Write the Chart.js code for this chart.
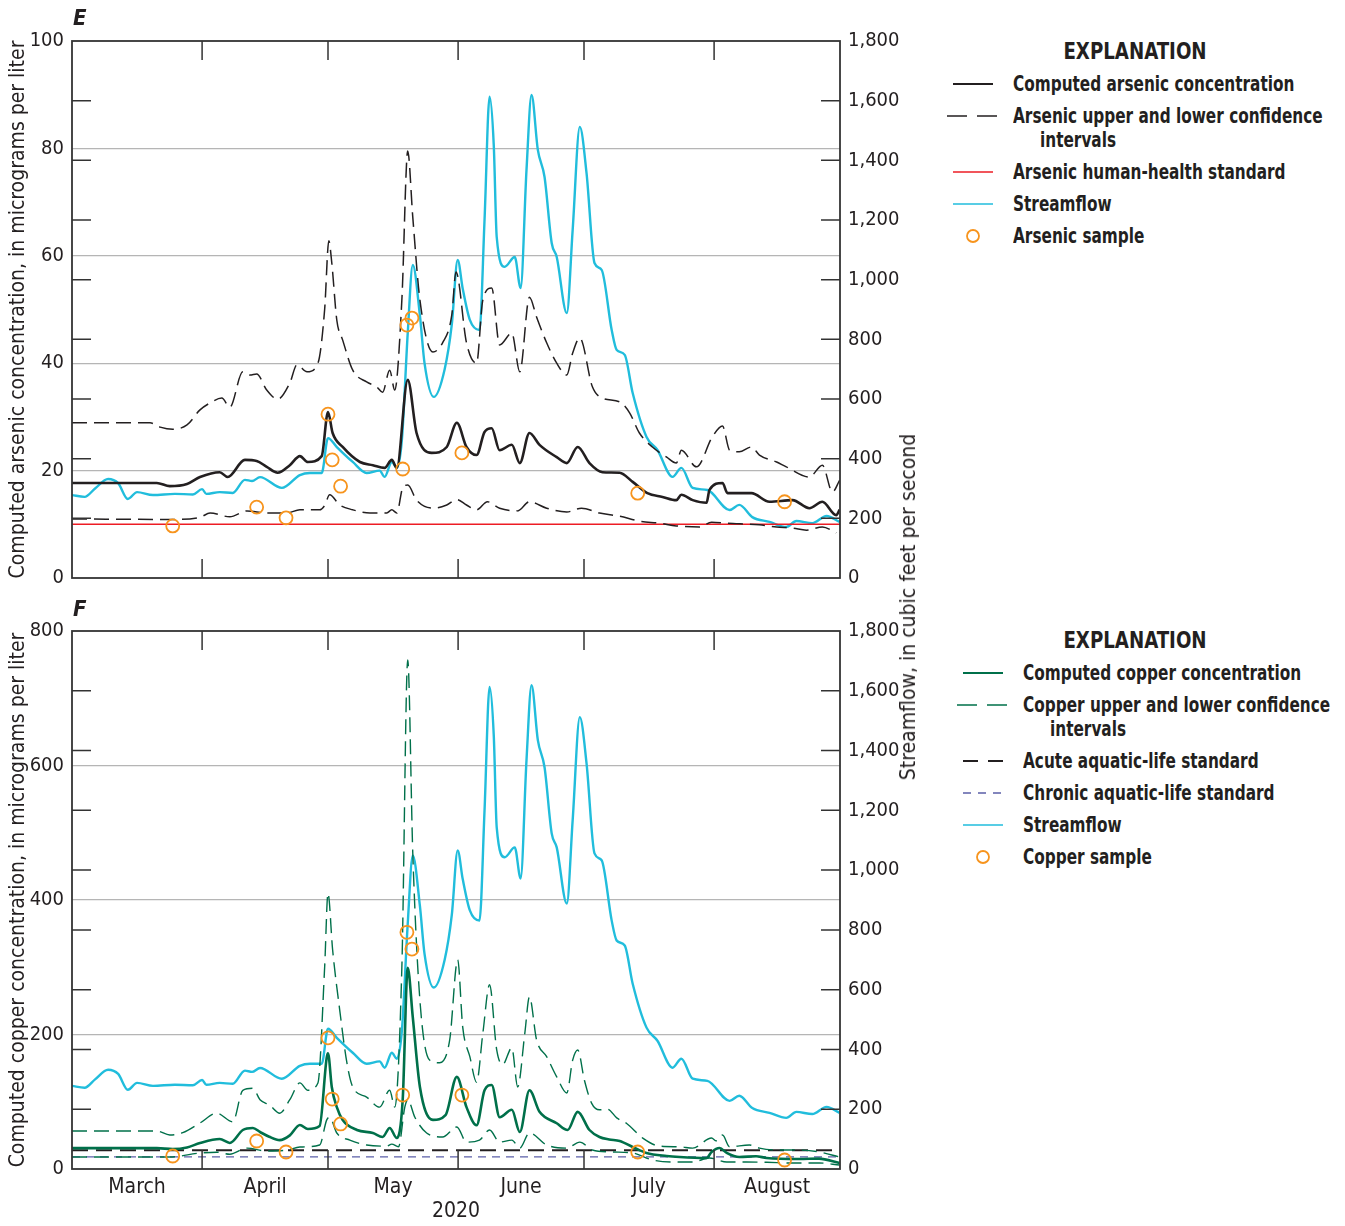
<!DOCTYPE html>
<html>
<head>
<meta charset="utf-8">
<script src="https://cdn.jsdelivr.net/npm/chart.js@4.4.0/dist/chart.umd.min.js"></script>
<style>
  body { margin:0; background:#fff; width:1345px; height:1226px; position:relative; overflow:hidden;
         font-family:'Liberation Sans Narrow','DejaVu Sans Condensed','Arial Narrow',sans-serif; color:#231f20; }
  .box { position:absolute; left:0; width:930px; }
  #boxE { top:0; height:600px; }
  #boxF { top:600px; height:626px; }
  .panel { position:absolute; left:73px; font-weight:bold; font-style:italic; font-size:22px; line-height:24px; }
  .flowTitle { position:absolute; left:908px; top:607px; font-size:21px; line-height:24px; white-space:nowrap;
               transform:translate(-50%,-50%) rotate(-90deg); }
  .legHead { position:absolute; width:300px; left:985px; text-align:center; font-weight:bold; font-size:23px; line-height:26px;
             transform:scaleX(0.88); transform-origin:center; }
  .row { position:absolute; font-weight:bold; font-size:21px; line-height:24px; white-space:nowrap;
         transform:scaleX(0.81); transform-origin:left center; }
  svg { position:absolute; }
</style>
</head>
<body>
<div class="box" id="boxE"><canvas id="chartE" width="930" height="600"></canvas></div>
<div class="box" id="boxF"><canvas id="chartF" width="930" height="626"></canvas></div>

<div class="panel" style="top:6px">E</div>
<div class="panel" style="top:597px">F</div>
<div class="flowTitle">Streamflow, in cubic feet per second</div>

<!-- explanation, panel E -->
<div class="legHead" style="top:38px">EXPLANATION</div>
<svg style="left:945px;top:72px" width="60" height="24"><line x1="8" y1="12" x2="48" y2="12" stroke="#231f20" stroke-width="2"/></svg>
<div class="row" style="left:1013px;top:72px">Computed arsenic concentration</div>
<svg style="left:945px;top:104px" width="60" height="24"><line x1="2" y1="12" x2="52" y2="12" stroke="#231f20" stroke-width="1.3" stroke-dasharray="20 10"/></svg>
<div class="row" style="left:1013px;top:104px">Arsenic upper and lower confidence</div>
<div class="row" style="left:1040px;top:128px">intervals</div>
<svg style="left:945px;top:160px" width="60" height="24"><line x1="8" y1="12" x2="48" y2="12" stroke="#ed1c24" stroke-width="1.5"/></svg>
<div class="row" style="left:1013px;top:160px">Arsenic human-health standard</div>
<svg style="left:945px;top:192px" width="60" height="24"><line x1="8" y1="12" x2="48" y2="12" stroke="#21bddc" stroke-width="1.5"/></svg>
<div class="row" style="left:1013px;top:192px">Streamflow</div>
<svg style="left:945px;top:224px" width="60" height="24"><circle cx="28" cy="12" r="6" fill="none" stroke="#f7941d" stroke-width="1.8"/></svg>
<div class="row" style="left:1013px;top:224px">Arsenic sample</div>

<!-- explanation, panel F -->
<div class="legHead" style="top:627px">EXPLANATION</div>
<svg style="left:955px;top:661px" width="60" height="24"><line x1="8" y1="12" x2="48" y2="12" stroke="#00704a" stroke-width="2"/></svg>
<div class="row" style="left:1023px;top:661px">Computed copper concentration</div>
<svg style="left:955px;top:693px" width="60" height="24"><line x1="2" y1="12" x2="52" y2="12" stroke="#00704a" stroke-width="1.3" stroke-dasharray="20 10"/></svg>
<div class="row" style="left:1023px;top:693px">Copper upper and lower confidence</div>
<div class="row" style="left:1050px;top:717px">intervals</div>
<svg style="left:955px;top:749px" width="60" height="24"><line x1="8" y1="12" x2="48" y2="12" stroke="#231f20" stroke-width="2" stroke-dasharray="15 10"/></svg>
<div class="row" style="left:1023px;top:749px">Acute aquatic-life standard</div>
<svg style="left:955px;top:781px" width="60" height="24"><line x1="8" y1="12" x2="50" y2="12" stroke="#5b5fa8" stroke-width="1.3" stroke-dasharray="8 7"/></svg>
<div class="row" style="left:1023px;top:781px">Chronic aquatic-life standard</div>
<svg style="left:955px;top:813px" width="60" height="24"><line x1="8" y1="12" x2="48" y2="12" stroke="#21bddc" stroke-width="1.5"/></svg>
<div class="row" style="left:1023px;top:813px">Streamflow</div>
<svg style="left:955px;top:845px" width="60" height="24"><circle cx="28" cy="12" r="6" fill="none" stroke="#f7941d" stroke-width="1.8"/></svg>
<div class="row" style="left:1023px;top:845px">Copper sample</div>

<script>
// x values are days since March 1, 2020
const monthNames = ['March', 'April', 'May', 'June', 'July', 'August'];
const monthStarts = [0, 31, 61, 92, 122, 153, 183];
const yearLabel = '2020';
const flowTicks = [200, 400, 600, 800, 1000, 1200, 1400, 1600];

// streamflow, cubic feet per second (same series in both panels)
const streamflow = [[0,278],[3,272],[5.5,300],[8.6,332],[11,318],[13.3,265],[15.5,288],[19.3,278],[24.5,282],[28.8,280],
  [31,298],[32,282],[35.2,288],[38.3,285],[41.2,329],[42.9,325],[44.8,338],[50,302],[54.3,345],[56.7,352],[59.5,352],
  [61,469],[63.1,439],[66.9,389],[70.2,352],[73.3,360],[74.5,339],[76.2,389],[77.4,369],[78.6,462],[80,821],[81.2,1049],
  [82.9,880],[84,720],[86.2,607],[88.8,700],[90.5,850],[91.9,1066],[93.1,970],[94.8,865],[97.1,831],[98.3,1200],[99.5,1613],
  [100.5,1450],[101.2,1143],[103.1,1043],[105.5,1076],[106.9,972],[108.3,1368],[109.5,1619],[111,1435],[112.6,1344],
  [114.3,1123],[115.5,1076],[117.9,888],[119.3,1167],[121,1512],[122.6,1358],[124.5,1056],[126.2,1033],[128.6,831],
  [129.8,764],[131.7,748],[133.6,620],[136.9,473],[139.5,429],[143.1,339],[145.2,369],[147.9,302],[151.4,295],[156.7,228],
  [159,245],[162.1,204],[166.2,188],[170.2,171],[172.6,191],[176.4,184],[179.8,208],[182.9,188]];

// arsenic, micrograms per liter
const arsenic = [[0,17.7],[20.2,17.7],[23.3,17.1],[27.4,17.5],[30.5,18.8],[35.2,19.7],[37.1,18.8],[41.2,22],[44,21.8],
  [46.4,20.7],[49,19.6],[51.9,21],[54.3,22.7],[56.2,21.6],[59.5,22.7],[61,30.9],[62.1,27],[64.5,24.4],[68.6,21.6],[71.7,21],
  [74.5,20.5],[76.2,22],[77.4,20.5],[80,36.9],[82.1,27],[85.7,23.3],[89.3,24.4],[91.7,28.9],[94,24.4],[96.4,22.9],
  [98.3,27.2],[100,27.9],[101.9,23.8],[104.8,24.8],[106.7,21.4],[109,27],[111.4,24.8],[115.5,22.5],[117.9,21.4],
  [120.5,24.4],[123.3,21.4],[126.4,19.7],[130.5,19.6],[133.6,17.9],[137.1,15.8],[140.7,15.1],[144,14.5],[145.2,15.5],
  [147.9,14.5],[151.2,14],[151.9,16.4],[155,17.7],[156.2,15.8],[161.9,15.8],[166.2,14.2],[171.7,14.5],[175.7,13],
  [178.8,14.2],[182.1,11.7],[182.9,12.7]];
const arsenicUpper = [[0,28.9],[18.6,28.9],[21,28.1],[24,27.7],[27.4,28.5],[30.5,31.3],[32.9,32.6],[35.7,33.5],[37.6,31.8],
  [40.7,38.4],[42.4,37.8],[44,38],[46.4,35],[49,33.3],[51.9,36.3],[53.6,39.7],[56,38.4],[58.6,40],[60.2,50],[61.2,62.8],
  [61.9,58.7],[63.1,48],[64.5,44.3],[66.9,38.7],[70.2,36.5],[72.6,35.6],[74,34.6],[75.7,38.7],[76.9,35],[78.6,51.8],
  [80,79.5],[81.2,67.2],[82.9,51.8],[86,42.1],[88.3,43.8],[90.5,49],[91.5,57],[94,43.8],[96.4,40],[97.9,51.8],[100,54],
  [101.9,43.4],[104.8,45.6],[106.7,38.4],[109,52.3],[110.7,48.6],[113.1,43.8],[115.5,40],[117.9,37.8],[119.3,41.9],
  [121,44.7],[124,35.6],[126.4,33.5],[130.5,32.8],[132.9,30.7],[135.2,27],[138.3,24.4],[141.7,22.5],[144,21.4],
  [145.2,23.8],[148.8,20.7],[152.6,26.3],[155,28.3],[156.7,23.8],[159,23.5],[161.9,24.4],[163.8,22.9],[167.9,21.6],
  [170.2,20.7],[175.7,18.8],[178.8,21],[181.2,16],[182.9,18.2]];
const arsenicLower = [[0,11],[23.3,10.9],[30.5,11.3],[32.9,12.1],[37.6,11.4],[41.7,12.5],[46.4,12.1],[51.2,12.1],
  [54.3,12.7],[59,12.7],[60.2,13.5],[61.4,15.5],[63.8,13.6],[66.9,12.7],[71,12.1],[75,12.1],[76.2,12.7],[77.4,12.1],
  [78.8,16.8],[80,17.3],[82.1,14.5],[86,13],[89.3,13.6],[91.7,14.6],[94,13.6],[96.4,12.7],[99,14.2],[101.9,13],
  [106.2,12.5],[109,14.2],[113.1,13],[117.9,12.3],[121.4,13],[125.7,12.1],[130.5,11.5],[135.2,10.6],[140,10.2],
  [144,9.7],[149.5,9.5],[152.4,10.4],[156,10.2],[163.8,9.9],[167.9,9.5],[171.7,9.3],[175,8.9],[178.8,9.5],[182.1,8.4]];
const arsenicStandard = 10;

// copper, micrograms per liter
const copper = [[0,31],[20.2,31],[24,29.7],[27.4,32],[30.5,38.7],[35.2,44.6],[37.6,38.7],[40.7,58],[43.1,61],[44.8,55],
  [47,48],[49.5,43],[51.9,50],[54.3,65.4],[56.2,59.5],[59,64],[60.7,166],[61,172],[61.9,122],[63.1,92],[64.5,73],
  [67.9,58],[71.7,53.5],[74,47.6],[75.7,61],[77.4,46],[78.8,103],[80,299],[81.2,226],[82.9,122],[86,73],[89,80],
  [91.7,137],[94,92],[96.4,65],[98.3,117],[100,125],[101.9,77],[104.8,88],[106.7,55],[109,117],[111.4,85],[115.5,68],
  [118.1,58],[120.5,85],[123.3,58],[125.7,47.6],[128,44],[130.5,41.6],[133.6,32.7],[136.9,23.8],[141.7,19.3],
  [144.8,17.8],[151.2,16.4],[152.4,25.3],[154.3,31.2],[156,24],[159,17.8],[163,19],[165.5,16.4],[173.3,14.9],
  [178,15.5],[182.9,8.9]];
const copperUpper = [[0,56.5],[20.2,56.5],[23.3,50.6],[26.4,54],[30.5,68.4],[34.5,83],[38.3,70],[40.7,117],[43.1,120],
  [44.8,103],[47.1,95],[49.5,83],[51.9,103],[54.3,128],[56.2,117],[58.6,128],[60.2,300],[61,410],[62.1,326],[63.8,236],
  [65.5,158],[66.9,122],[70.2,107],[73.3,92],[75.7,117],[76.9,92],[78.6,300],[80,757],[81.2,470],[82.9,251],[85.2,162],
  [87.6,158],[90,192],[91.9,311],[93.1,211],[94.8,167],[96.4,129],[97.9,202],[99.5,274],[101.2,177],[102.6,155],
  [104.8,180],[106.2,122],[107.9,202],[109,256],[110.7,192],[113.1,167],[115.5,137],[117.9,113],[119.3,162],[120.5,177],
  [122.1,132],[123.8,98],[125.7,88],[127.6,89],[129.8,76],[132.1,68],[136,46],[140,34],[144.8,33],[147.9,31],[152.4,46],
  [153.5,42],[155,50.6],[156.7,33],[161.4,35.7],[163.8,31],[167.9,28.3],[172.6,28.3],[178.1,25.3],[182.9,17.8]];
const copperLower = [[0,17.8],[23.3,17.8],[30.5,23.8],[34.5,25],[37.6,22],[41.7,31],[46.4,26.8],[51.2,28],[54.3,32.7],
  [59,35.7],[60.7,73],[61.4,77],[63.1,53.5],[66.2,43],[70.2,35.7],[75,34],[76.2,37],[77.8,33],[79.3,92],[80,103],
  [81.7,77],[84.5,53.5],[88.3,47.6],[91.7,62.5],[94,40],[97.1,43],[99.5,58],[101.9,40],[104.8,43],[106.7,31],[109,53.5],
  [113.1,35.7],[117.9,31],[121,40],[124,28.3],[128.8,25.3],[133.6,23.8],[138.3,13.4],[144,10.4],[147.9,10.4],
  [151.9,16.4],[156,10.4],[160.7,10.4],[165.5,10],[171.7,8.9],[178.1,8.9],[182.9,5.9]];
const acuteStandard = 28;
const chronicStandard = 18;

// discrete samples
const sampleDays = [24, 44, 51, 61, 62, 64, 78.8, 79.8, 81, 92.9, 134.8, 169.8];
const arsenicSamples = [9.7, 13.2, 11.2, 30.5, 22, 17.1, 20.3, 47.1, 48.4, 23.3, 15.8, 14.2];
const copperSamples = [19.3, 41.6, 25.3, 195, 104, 67, 110, 352, 327, 110, 25.3, 13.4];

const INK = '#231f20';
Chart.defaults.font.family = "'Liberation Sans Narrow','DejaVu Sans Condensed','Arial Narrow',sans-serif";
Chart.defaults.color = INK;

const monthMids = monthNames.map((m, i) => (monthStarts[i] + monthStarts[i + 1]) / 2);

function pts(pairs) {
  return pairs.map(p => ({ x: p[0], y: p[1] }));
}

function line(pairs, color, width, dash, axis, order) {
  return {
    data: pts(pairs), borderColor: color, borderWidth: width, borderDash: dash,
    yAxisID: axis, pointRadius: 0, fill: false, cubicInterpolationMode: 'monotone', order: order
  };
}

function hline(value, color, width, dash, order) {
  const first = monthStarts[0], last = monthStarts[monthStarts.length - 1];
  return line([[first, value], [last, value]], color, width, dash, 'y', order);
}

function samples(values) {
  return {
    data: sampleDays.map((d, i) => ({ x: d, y: values[i] })), yAxisID: 'y', showLine: false,
    pointRadius: 6.5, pointBorderWidth: 1.8, pointBorderColor: '#f7941d',
    pointBackgroundColor: 'rgba(0,0,0,0)', order: 0
  };
}

// frame plus the short inward ticks on all four sides
const insideTicks = {
  id: 'insideTicks',
  afterDatasetsDraw(chart) {
    const { ctx, chartArea: a, scales } = chart;
    ctx.save();
    ctx.strokeStyle = '#333';
    ctx.lineWidth = 1.5;
    ctx.beginPath();
    monthStarts.slice(1, -1).forEach(v => {
      const px = scales.x.getPixelForValue(v);
      ctx.moveTo(px, a.top); ctx.lineTo(px, a.top + 19);
      ctx.moveTo(px, a.bottom); ctx.lineTo(px, a.bottom - 19);
    });
    flowTicks.forEach(v => {
      const py = scales.y1.getPixelForValue(v);
      ctx.moveTo(a.left, py); ctx.lineTo(a.left + 19, py);
      ctx.moveTo(a.right, py); ctx.lineTo(a.right - 19, py);
    });
    ctx.stroke();
    ctx.lineWidth = 1.8;
    ctx.strokeRect(a.left, a.top, a.right - a.left, a.bottom - a.top);
    ctx.restore();
  }
};

function makeChart(id, datasets, yMax, yStep, yTitle, topPad, bottomH, showMonths) {
  return new Chart(document.getElementById(id), {
    type: 'line',
    data: { datasets: datasets },
    options: {
      responsive: false,
      animation: false,
      events: [],
      layout: { padding: { top: topPad, left: 0, right: 0, bottom: 0 } },
      plugins: { legend: { display: false }, tooltip: { enabled: false } },
      scales: {
        x: {
          type: 'linear', min: monthStarts[0], max: monthStarts[monthStarts.length - 1],
          border: { display: false },
          grid: { display: false, drawTicks: false },
          afterBuildTicks: s => { s.ticks = monthMids.map(v => ({ value: v })); },
          ticks: { display: showMonths, autoSkip: false, maxRotation: 0, padding: 6, font: { size: 21 },
                   callback: (v, i) => monthNames[i] },
          title: { display: showMonths, text: yearLabel, font: { size: 21 }, padding: { top: 0, bottom: 2 } },
          afterFit: s => { s.height = bottomH; }
        },
        y: {
          position: 'left', min: 0, max: yMax,
          border: { display: false },
          ticks: { stepSize: yStep, padding: 8, font: { size: 20 } },
          grid: { drawTicks: false, lineWidth: 1.3,
                  color: c => (c.tick.value > 0 && c.tick.value < yMax) ? '#b5b5b5' : 'rgba(0,0,0,0)' },
          title: { display: true, text: yTitle, font: { size: 21 }, padding: { top: 6, bottom: 0 } },
          afterFit: s => { s.width = 72; }
        },
        y1: {
          position: 'right', min: 0, max: 1800,
          border: { display: false },
          grid: { display: false, drawTicks: false },
          ticks: { stepSize: 200, padding: 8, font: { size: 20 }, callback: v => v.toLocaleString('en-US') },
          afterFit: s => { s.width = 90; }
        }
      }
    },
    plugins: [insideTicks]
  });
}

makeChart('chartE', [
  samples(arsenicSamples),
  line(arsenic, INK, 2.6, [], 'y', 1),
  line(arsenicUpper, INK, 1.5, [15, 7], 'y', 2),
  line(arsenicLower, INK, 1.5, [15, 7], 'y', 2),
  hline(arsenicStandard, '#ed1c24', 1.5, [], 3),
  line(streamflow, '#21bddc', 2.4, [], 'y1', 4)
], 100, 20, 'Computed arsenic concentration, in micrograms per liter', 41, 22, false);

makeChart('chartF', [
  samples(copperSamples),
  line(copper, '#00704a', 2.6, [], 'y', 1),
  line(copperUpper, '#00704a', 1.4, [15, 7], 'y', 2),
  line(copperLower, '#00704a', 1.4, [15, 7], 'y', 2),
  hline(acuteStandard, INK, 2, [16, 8], 3),
  hline(chronicStandard, '#5b5fa8', 1.4, [8, 6], 3),
  line(streamflow, '#21bddc', 2.4, [], 'y1', 4)
], 800, 200, 'Computed copper concentration, in micrograms per liter', 31, 57, true);
</script>
</body>
</html>
